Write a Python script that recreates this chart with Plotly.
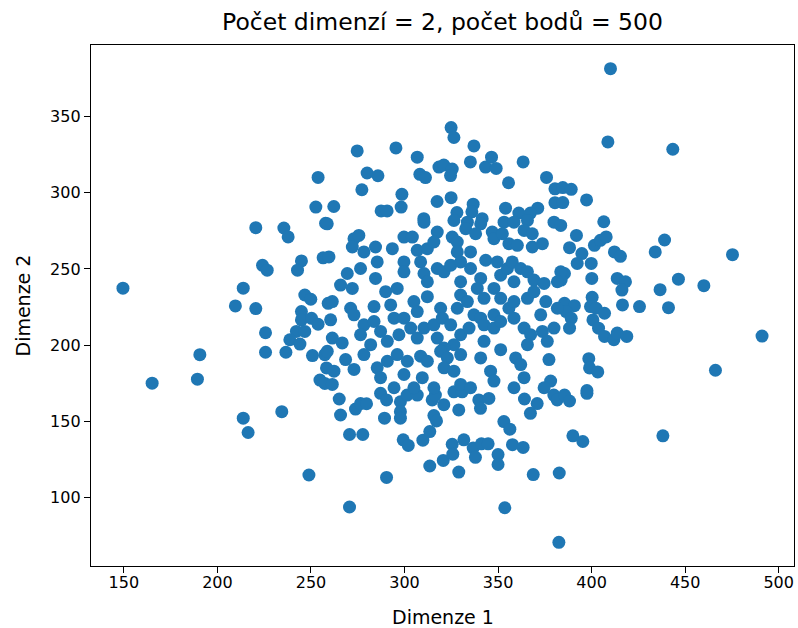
import plotly.graph_objects as go

# Sample of 2-D points (Dimenze 1, Dimenze 2)
dim1 = [
    # upper band
    274.7, 295.4, 324.9, 326.4, 337.1, 306.8, 280.0, 285.8, 277.2, 298.6, 298.2, 287.5, 290.7,
    308.2, 311.2, 318.4, 321.0, 325.5, 324.6, 335.2, 343.3, 346.5, 349.0, 363.4, 355.6, 317.4,
    324.9, 336.7, 354.0, 328.0, 336.0, 375.9, 380.4, 380.4, 371.2, 361.1, 367.3, 310.3, 341.5,
    262.2, 253.8, 252.6,
    410.1, 408.7, 443.4, 384.6, 389.1, 384.6, 397.3, 406.5,
    # left side
    149.5, 220.5, 235.5, 237.8, 257.8, 224.1, 226.6, 244.9, 242.8, 256.5, 213.8, 209.6, 220.5,
    246.7, 249.9, 244.9, 244.9, 250.3, 253.8, 259.2, 225.7, 242.2, 246.7, 238.7, 244.1, 225.7,
    236.6, 250.8, 257.4, 258.3, 190.6, 189.3, 165.1, 254.8, 257.4,
    213.8, 216.4, 234.4, 248.9,
    # lower band
    265.1, 265.8, 273.8, 276.5, 279.7, 270.6, 277.7, 287.2, 290.4, 289.3, 297.8, 297.8, 297.8,
    301.4, 306.8, 299.3, 302.0, 309.8, 313.5, 315.7, 317.1, 314.8, 316.5, 321.0, 313.5, 320.7,
    325.5, 325.8, 329.0, 326.4, 330.8, 329.0, 331.7, 336.7, 337.9, 341.1, 344.7, 339.7, 340.6,
    345.1, 350.0, 350.0, 353.1, 356.3, 357.7, 363.4, 353.6, 364.1, 370.9, 367.3, 368.8, 290.4,
    270.6, 382.7, 382.5, 379.8, 381.6,
    385.5, 388.2, 397.5, 390.0, 395.3, 438.1,
    # right side
    391.9, 388.2, 401.5, 404.7, 407.8, 394.8, 392.3, 399.8, 412.2, 415.4, 434.0, 439.0, 475.3,
    385.5, 383.7, 400.1, 413.7, 418.1, 416.2, 446.4, 436.6, 460.0, 400.3, 399.4, 402.4, 385.5,
    390.8, 386.4, 389.1, 406.9, 416.5, 425.6, 441.1, 400.7, 403.7, 388.2, 406.9, 411.9, 413.7,
    418.8, 491.1, 398.5, 398.9, 403.3, 466.2, 397.5,
    # central cluster
    310.4, 326.4, 333.6, 340.7, 353.2, 358.5, 365.7, 379.9, 258.7,
    273.0, 275.6, 272.1, 278.3, 284.5, 293.5, 299.7, 304.2, 306.8, 312.2, 317.5, 315.7, 325.5,
    328.2, 328.2, 332.7, 338.0, 335.3, 346.9, 347.8, 352.3, 355.8, 360.3, 363.9, 368.3, 368.3,
    373.7, 383.5,
    259.6, 269.4, 276.5, 285.4, 284.5, 265.8, 272.1, 299.7, 299.7, 308.6, 310.4, 312.2, 317.5,
    321.1, 324.7, 330.0, 330.0, 335.3, 340.7, 343.4, 349.6, 351.4, 355.0, 357.6, 362.1, 365.7,
    358.5, 369.2, 374.6, 383.5, 381.7,
    289.9, 296.1, 292.6, 283.7, 305.0, 312.2, 319.3, 306.8, 261.4, 271.2, 273.0, 330.0, 328.2,
    333.6, 338.9, 342.5, 347.8, 351.4, 355.8, 358.5, 347.8, 365.7, 369.2, 375.5, 381.7, 372.8,
    337.1, 340.7,
    260.5, 278.3, 276.5, 283.7, 287.2, 290.8, 281.9, 294.4, 299.7, 303.3, 297.0, 306.8, 310.4,
    315.7, 320.2, 324.7, 330.0, 326.4, 317.5, 321.1, 334.5, 342.5, 347.8, 351.4, 358.5, 363.9,
    367.4, 373.7, 379.9, 376.3, 261.4, 266.7, 365.7, 342.5,
    258.7, 268.5, 273.0, 278.3, 285.4, 287.2, 290.8, 296.1, 301.5, 299.7, 308.6, 312.2, 309.5,
    319.3, 322.9, 321.1, 330.0, 326.4, 330.0, 340.7, 351.4, 346.0, 347.8, 359.4, 362.1, 363.9,
    377.2, 378.1, 262.3, 294.4, 305.0, 315.7, 335.3, 358.5, 374.6, 261.4,
]

dim2 = [
    # upper band
    327.5, 329.5, 342.8, 336.3, 330.8, 323.4, 313.0, 311.2, 302.0, 299.0, 290.6, 288.1, 288.1,
    312.1, 310.0, 316.9, 318.2, 315.6, 311.3, 320.3, 316.9, 323.4, 316.0, 320.3, 306.6, 294.3,
    296.8, 292.5, 289.9, 287.0, 287.5, 310.1, 302.6, 293.5, 289.9, 286.7, 286.7, 283.0, 283.0,
    291.0, 310.1, 290.6,
    381.5, 333.4, 328.6, 303.4, 302.3, 293.6, 295.3, 281.0,
    # left side
    237.4, 277.1, 276.9, 271.0, 280.0, 252.4, 249.2, 255.3, 249.2, 257.3, 237.4, 225.7, 224.0,
    232.9, 230.1, 222.0, 216.5, 217.6, 213.7, 227.4, 208.1, 209.0, 209.0, 203.5, 200.7, 195.3,
    195.3, 193.1, 193.7, 185.0, 193.7, 177.6, 175.0, 177.0, 174.8,
    152.0, 142.6, 156.3, 114.7,
    # lower band
    164.6, 154.1, 158.0, 161.6, 161.5, 141.3, 141.3, 168.3, 164.0, 152.0, 162.8, 156.3, 152.0,
    167.2, 167.2, 137.8, 134.1, 137.6, 143.2, 153.7, 150.2, 164.0, 167.2, 160.9, 120.6, 124.3,
    134.9, 128.4, 157.4, 169.3, 169.3, 116.6, 137.8, 132.4, 126.3, 135.2, 135.2, 164.0, 158.5,
    165.0, 128.1, 121.6, 149.8, 144.8, 134.6, 132.8, 93.2, 164.6, 161.6, 155.2, 115.0, 113.1,
    93.7, 116.0, 70.5, 167.2, 164.0,
    167.2, 163.3, 168.3, 140.4, 136.7, 140.4,
    # right side
    272.0, 264.0, 265.5, 268.8, 271.0, 260.1, 253.6, 253.6, 261.2, 258.3, 261.2, 269.0, 259.4,
    247.0, 242.7, 243.8, 243.8, 241.6, 236.1, 243.3, 236.4, 239.0, 231.4, 225.3, 224.2, 227.4,
    225.9, 222.0, 217.6, 220.9, 226.4, 225.3, 224.6, 216.5, 211.1, 211.1, 205.7, 203.5, 207.9,
    205.7, 205.9, 191.1, 185.0, 182.4, 183.5, 170.2,
    # central cluster
    280.7, 281.8, 280.7, 279.6, 280.7, 280.7, 281.8, 280.7, 279.6,
    269.9, 272.0, 264.4, 261.2, 264.4, 263.3, 270.9, 270.9, 262.2, 263.3, 274.2, 267.7, 270.9,
    267.7, 261.2, 276.4, 273.1, 261.2, 274.2, 269.9, 273.1, 266.6, 265.5, 275.3, 273.1, 264.4,
    266.6, 278.6,
    257.9, 247.0, 250.3, 254.6, 243.8, 239.4, 237.2, 254.6, 248.1, 254.6, 247.0, 241.6, 250.3,
    248.1, 252.5, 254.6, 241.6, 250.3, 243.8, 255.7, 254.6, 245.9, 250.3, 254.6, 250.3, 248.1,
    241.6, 242.7, 240.5, 248.1, 241.6,
    235.1, 237.2, 226.4, 225.3, 228.6, 231.8, 224.2, 222.0, 228.6, 224.2, 219.9, 232.9, 224.2,
    228.6, 237.2, 230.7, 237.2, 230.7, 224.2, 228.6, 219.9, 230.7, 235.1, 228.6, 224.2, 219.9,
    219.9, 217.7,
    216.6, 213.3, 206.8, 215.5, 209.0, 202.5, 200.3, 217.7, 217.7, 211.2, 206.8, 204.6, 211.2,
    213.3, 217.7, 213.3, 206.8, 200.3, 204.6, 198.1, 211.2, 213.3, 211.2, 215.5, 217.7, 211.2,
    206.8, 209.0, 211.2, 202.5, 204.6, 201.4, 200.3, 202.5,
    195.9, 190.5, 184.0, 193.8, 185.1, 178.6, 189.4, 193.8, 189.4, 180.7, 192.7, 189.4, 178.6,
    195.9, 191.6, 185.1, 193.8, 182.9, 174.2, 191.6, 197.0, 182.9, 176.4, 191.6, 187.2, 178.6,
    190.5, 176.4, 182.9, 172.0, 172.0, 172.0, 172.0, 172.0, 172.0, 174.2,
]

title_text = "Počet dimenzí = 2, počet bodů = 500"
x_label = "Dimenze 1"
y_label = "Dimenze 2"
x_ticks = [150, 200, 250, 300, 350, 400, 450, 500]
y_ticks = [100, 150, 200, 250, 300, 350]

point_color = "#1f77b4"
font_family = "DejaVu Sans"

fig = go.Figure(
    go.Scatter(
        x=dim1,
        y=dim2,
        mode="markers",
        marker=dict(size=13, color=point_color, line=dict(width=0)),
        hoverinfo="x+y",
    )
)

# padded data range (5% on each side)
x_min, x_max = min(dim1), max(dim1)
y_min, y_max = min(dim2), max(dim2)
x_pad = 0.05 * (x_max - x_min)
y_pad = 0.05 * (y_max - y_min)

axis_common = dict(
    showgrid=False,
    zeroline=False,
    showline=True,
    linecolor="black",
    linewidth=1.3,
    mirror=True,
    ticks="outside",
    ticklen=6,
    tickwidth=1.3,
    tickcolor="black",
    tickfont=dict(family=font_family, size=16, color="black"),
)

fig.update_layout(
    width=798,
    height=628,
    margin=dict(l=91, r=4, t=45, b=62),
    paper_bgcolor="white",
    plot_bgcolor="white",
    showlegend=False,
    font=dict(family=font_family, color="black"),
    xaxis=dict(
        range=[x_min - x_pad, x_max + x_pad],
        tickvals=x_ticks,
        ticklabelstandoff=-4,
        **axis_common,
    ),
    yaxis=dict(range=[y_min - y_pad, y_max + y_pad], tickvals=y_ticks, **axis_common),
    title=dict(
        text=title_text,
        x=0.5,
        xref="paper",
        xanchor="center",
        y=1 - 22 / 628,
        yref="container",
        yanchor="middle",
        font=dict(family=font_family, size=23.5, color="black"),
    ),
    annotations=[
        dict(
            text=x_label,
            xref="paper",
            yref="paper",
            x=0.5,
            y=-(617 - 566) / 521,
            xanchor="center",
            yanchor="middle",
            showarrow=False,
            font=dict(family=font_family, size=19, color="black"),
        ),
        dict(
            text=y_label,
            xref="paper",
            yref="paper",
            x=-(91 - 22) / 703,
            y=0.5,
            xanchor="center",
            yanchor="middle",
            textangle=-90,
            showarrow=False,
            font=dict(family=font_family, size=19, color="black"),
        ),
    ],
)

fig.write_html("out.html")
